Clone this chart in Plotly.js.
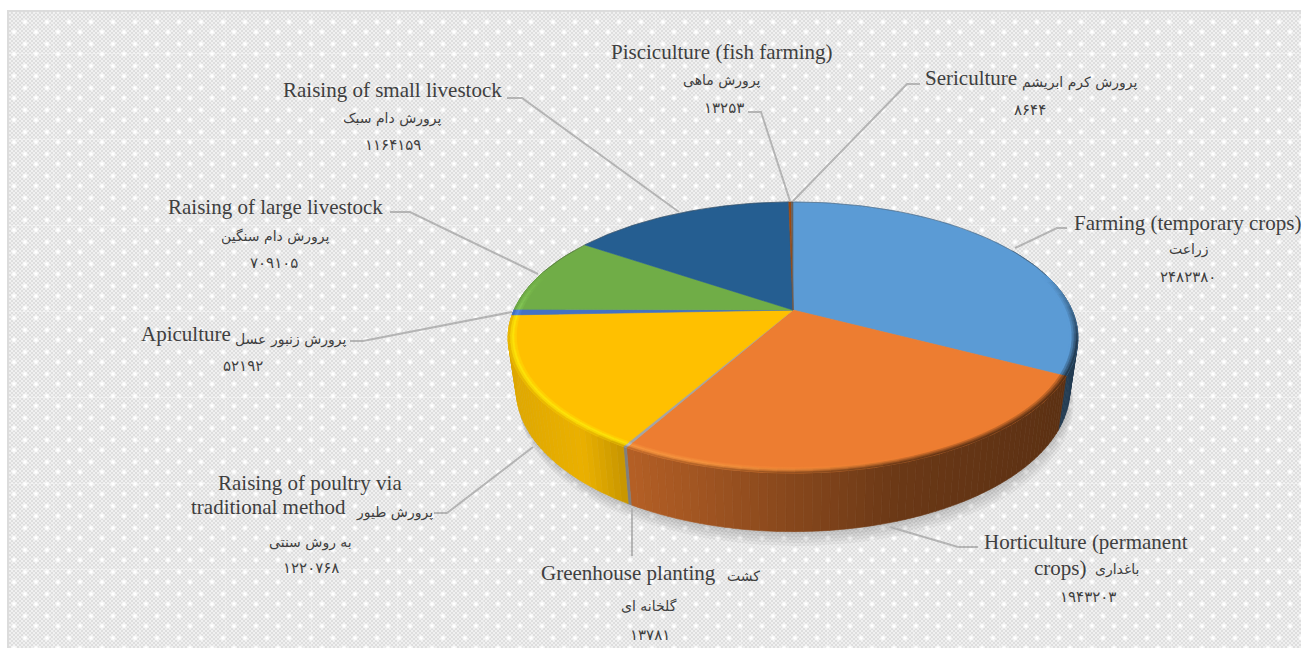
<!DOCTYPE html>
<html><head><meta charset="utf-8">
<script src="https://cdn.plot.ly/plotly-3.0.1.min.js"></script>
<style>
html,body{margin:0;padding:0;background:#fff;width:1301px;height:648px;overflow:hidden}
#frame{position:absolute;left:7px;top:10px;width:1294px;height:638px;box-sizing:border-box;border:2px solid #dcdcdc;border-right:none;border-bottom:none;
background-color:#e9e9e9;
background-image:
 linear-gradient(to bottom,rgba(255,255,255,0.3) 0,rgba(255,255,255,0.3) 1px,rgba(255,255,255,0) 1px),
 linear-gradient(to right,rgba(255,255,255,0.2) 0,rgba(255,255,255,0.2) 1px,rgba(255,255,255,0) 1px),
 radial-gradient(circle,#ffffff 0,#ffffff 1px,rgba(255,255,255,0) 3.3px),
 radial-gradient(circle,#ffffff 0,#ffffff 1px,rgba(255,255,255,0) 3.3px),
 repeating-conic-gradient(#dedede 0 25%,#f0f0f0 0 50%);
background-size:100% 86px,86px 100%,22px 22px,22px 22px,4px 4px;
background-position:0 41px,44px 0,5px -1px,-6px 9px,0 0;}
#chart{position:absolute;left:0;top:0;width:1301px;height:648px}
</style></head><body>
<div id="frame"></div><div id="chart"></div>
<script>
// ---- data ----
const categories=["Farming (temporary crops)","Horticulture (permanent crops)","Greenhouse planting","Raising of poultry via traditional method","Apiculture","Raising of large livestock","Raising of small livestock","Pisciculture (fish farming)","Sericulture"];
const values=[2482380,1943203,13781,1220768,52192,709105,1164159,13253,8644];
const sliceColors=["#5B9BD5","#ED7D31","#A5A5A5","#FFC000","#4472C4","#70AD47","#255E91","#9E480E","#636363"];
// text runs
const englishRuns=["Farming (temporary crops)","Horticulture (permanent","crops)","Greenhouse planting","Raising of poultry via","traditional method","Apiculture","Raising of large livestock","Raising of small livestock","Pisciculture (fish farming)","Sericulture"];
const englishX=[1187,1086,1060,628,310,268,186,275,392,722,971];
const englishY=[223,542,568,573,483,507,334,207,90,52,78];
const persianRuns=["زراعت","باغداری","کشت","گلخانه ای","پرورش طیور","به روش سنتی","پرورش زنبور عسل","پرورش دام سنگین","پرورش دام سبک","پرورش ماهی","پرورش کرم ابریشم"];
const persianX=[1189,1117,743,649,394,310,291,275,392,722,1080];
const persianY=[249,569,576,606,512,542,339,236,118,80,82];
const numberX=[1188,1088,650,311,243,274,393,724,1030];
const numberY=[277,597,635,568,366,263,145,108,110];
// leader lines, one per category
const leaderX=[[1015,1057,1067],[890,958,978],[632,632],[533,447,434],[512,363,350],[538,410,390],[679,522,507],[790,761,748],[793,907,920]];
const leaderY=[[248,228,228],[527,547,547],[508,556],[447,513,513],[312,341,341],[274,212,212],[212,98,98],[201,112,112],[201,84,84]];
// projection of the tilted disc
const view={cx:793,p:0.203,top:{cy:310,R:279,A:130},bot:{cy:361,R:271,A:136}};
const wallShadeX=[505,580,628,800,900,1085];
const wallShade=[0.87,0.92,0.76,0.56,0.45,0.38];
// ---- geometry helpers ----
const total=values.reduce((a,b)=>a+b,0);
const D2R=Math.PI/180;
function proj(deg,r,f){const s=r*Math.sin(deg*D2R),y=-r*Math.cos(deg*D2R),w=1-view.p*y;return [view.cx+f.R*s/w,f.cy+f.A*y/w];}
function hex(c){return [1,3,5].map(i=>parseInt(c.substr(i,2),16));}
function css(a){return "rgb("+a.map(v=>Math.round(Math.max(0,Math.min(255,v)))).join(",")+")";}
function mix(a,b,t){return a.map((v,i)=>v+(b[i]-v)*t);}
function clamp(t){return Math.max(0,Math.min(1,t));}
function shadeAt(x){if(x<=wallShadeX[0])return wallShade[0];for(let i=1;i<wallShadeX.length;i++){if(x<=wallShadeX[i]){const t=(x-wallShadeX[i-1])/(wallShadeX[i]-wallShadeX[i-1]);return wallShade[i-1]+(wallShade[i]-wallShade[i-1])*t;}}return wallShade[wallShade.length-1];}
function glowAt(x){if(x<700)return 1;if(x>930)return 0;return (930-x)/230;}
function poly(xs,ys,color,name){return {type:"scatter",mode:"lines",x:xs,y:ys,fill:"toself",fillcolor:color,line:{color:color,width:0.6},hoverinfo:name?"text":"skip",text:name||"",showlegend:false,name:name||""};}
const starts=[];let cum=0;values.forEach(v=>{starts.push(cum/total*360);cum+=v;});
const traces=[];
// soft ground shadow
[14,11,8,5,2].forEach(d=>{const xs=[],ys=[];for(let a=0;a<=360;a+=3){const q=proj(a,1.0,view.bot);xs.push(q[0]+d*0.25);ys.push(q[1]+d);}
 traces.push(poly(xs,ys,"rgba(0,0,0,0.035)"));});
// side wall strips, back to front
function cut(step,from,to){const out=[];values.forEach((v,i)=>{const a0=starts[i],a1=a0+v/total*360;const lo=Math.max(a0,from),hi=Math.min(a1,to);if(hi<=lo)return;const n=Math.max(1,Math.ceil((hi-lo)/step));for(let k=0;k<n;k++){out.push({i:i,a:lo+(hi-lo)*k/n,b:lo+(hi-lo)*(k+1)/n});}});return out;}
cut(1.5,60,300).forEach(s=>{const t0=proj(s.a,1,view.top),t1=proj(s.b,1,view.top),b1=proj(s.b,1,view.bot),b0=proj(s.a,1,view.bot);
 const m=shadeAt((t0[0]+t1[0])/2);traces.push(poly([t0[0],t1[0],b1[0],b0[0],t0[0]],[t0[1],t1[1],b1[1],b0[1],t0[1]],css(hex(sliceColors[s.i]).map(c=>c*m))));});
// top face slices
values.forEach((v,i)=>{const a0=starts[i],a1=a0+v/total*360;const xs=[view.cx],ys=[view.top.cy];const n=Math.max(1,Math.ceil(a1-a0));for(let k=0;k<=n;k++){const q=proj(a0+(a1-a0)*k/n,1,view.top);xs.push(q[0]);ys.push(q[1]);}xs.push(view.cx);ys.push(view.top.cy);
 traces.push(poly(xs,ys,sliceColors[i],categories[i]));});
// back rim edge
(function(){const xs=[],ys=[];for(let a=-85;a<=85;a+=2){const q=proj(a,1,view.top);xs.push(q[0]);ys.push(q[1]);}
 traces.push({type:"scatter",mode:"lines",x:xs,y:ys,line:{color:"rgba(70,70,70,0.4)",width:1},hoverinfo:"skip",showlegend:false});})();
// bevel rings on the front rim
const rings=[[0.972,0.98,0.3],[0.98,0.987,0.75],[0.987,0.994,0.55],[0.994,1.0,0.2]];
cut(3,74,288).forEach(s=>{
 const top=hex(sliceColors[s.i]);const mid=(s.a+s.b)/2;
 const fade=Math.min(clamp((mid-74)/30),clamp((288-mid)/22));
 const mx=(proj(s.a,1,view.top)[0]+proj(s.b,1,view.top)[0])/2;
 const wall=top.map(c=>c*shadeAt(mx));const bright=top.map(c=>Math.min(255,c*1.2+10));const g=glowAt(mx);
 rings.forEach((rg,idx)=>{const a=proj(s.a,rg[0],view.top),b=proj(s.b,rg[0],view.top),c=proj(s.b,rg[1],view.top),d=proj(s.a,rg[1],view.top);
  const base=mix(top,wall,idx/3);const col=mix(top,mix(base,bright,g*rg[2]),fade);
  traces.push(poly([a[0],b[0],c[0],d[0],a[0]],[a[1],b[1],c[1],d[1],a[1]],css(col)));});});
// leader lines
leaderX.forEach((xs,i)=>traces.push({type:"scatter",mode:"lines",x:xs,y:leaderY[i],line:{color:"#b4b4b4",width:2},hoverinfo:"skip",showlegend:false}));
// text
const INK="#3f3f3f";
const annotations=[];
function addText(t,x,y,fam,size){annotations.push({text:t,x:x,y:y,xref:"x",yref:"y",xanchor:"center",yanchor:"middle",showarrow:false,font:{family:fam,size:size,color:INK}});}
englishRuns.forEach((t,i)=>addText(t,englishX[i],englishY[i],"Liberation Serif",21));
persianRuns.forEach((t,i)=>addText(t,persianX[i],persianY[i],"DejaVu Sans",14));
const faDigits="۰۱۲۳۴۵۶۷۸۹";
values.forEach((v,i)=>addText(String(v).replace(/\d/g,d=>faDigits[+d]),numberX[i],numberY[i],"DejaVu Sans",15));
Plotly.newPlot("chart",traces,{width:1301,height:648,margin:{l:0,r:0,t:0,b:0},paper_bgcolor:"rgba(0,0,0,0)",plot_bgcolor:"rgba(0,0,0,0)",showlegend:false,hovermode:"closest",
 xaxis:{range:[0,1301],visible:false,fixedrange:true},yaxis:{range:[648,0],visible:false,fixedrange:true},annotations:annotations},{displayModeBar:false,responsive:false});
</script>
</body></html>
